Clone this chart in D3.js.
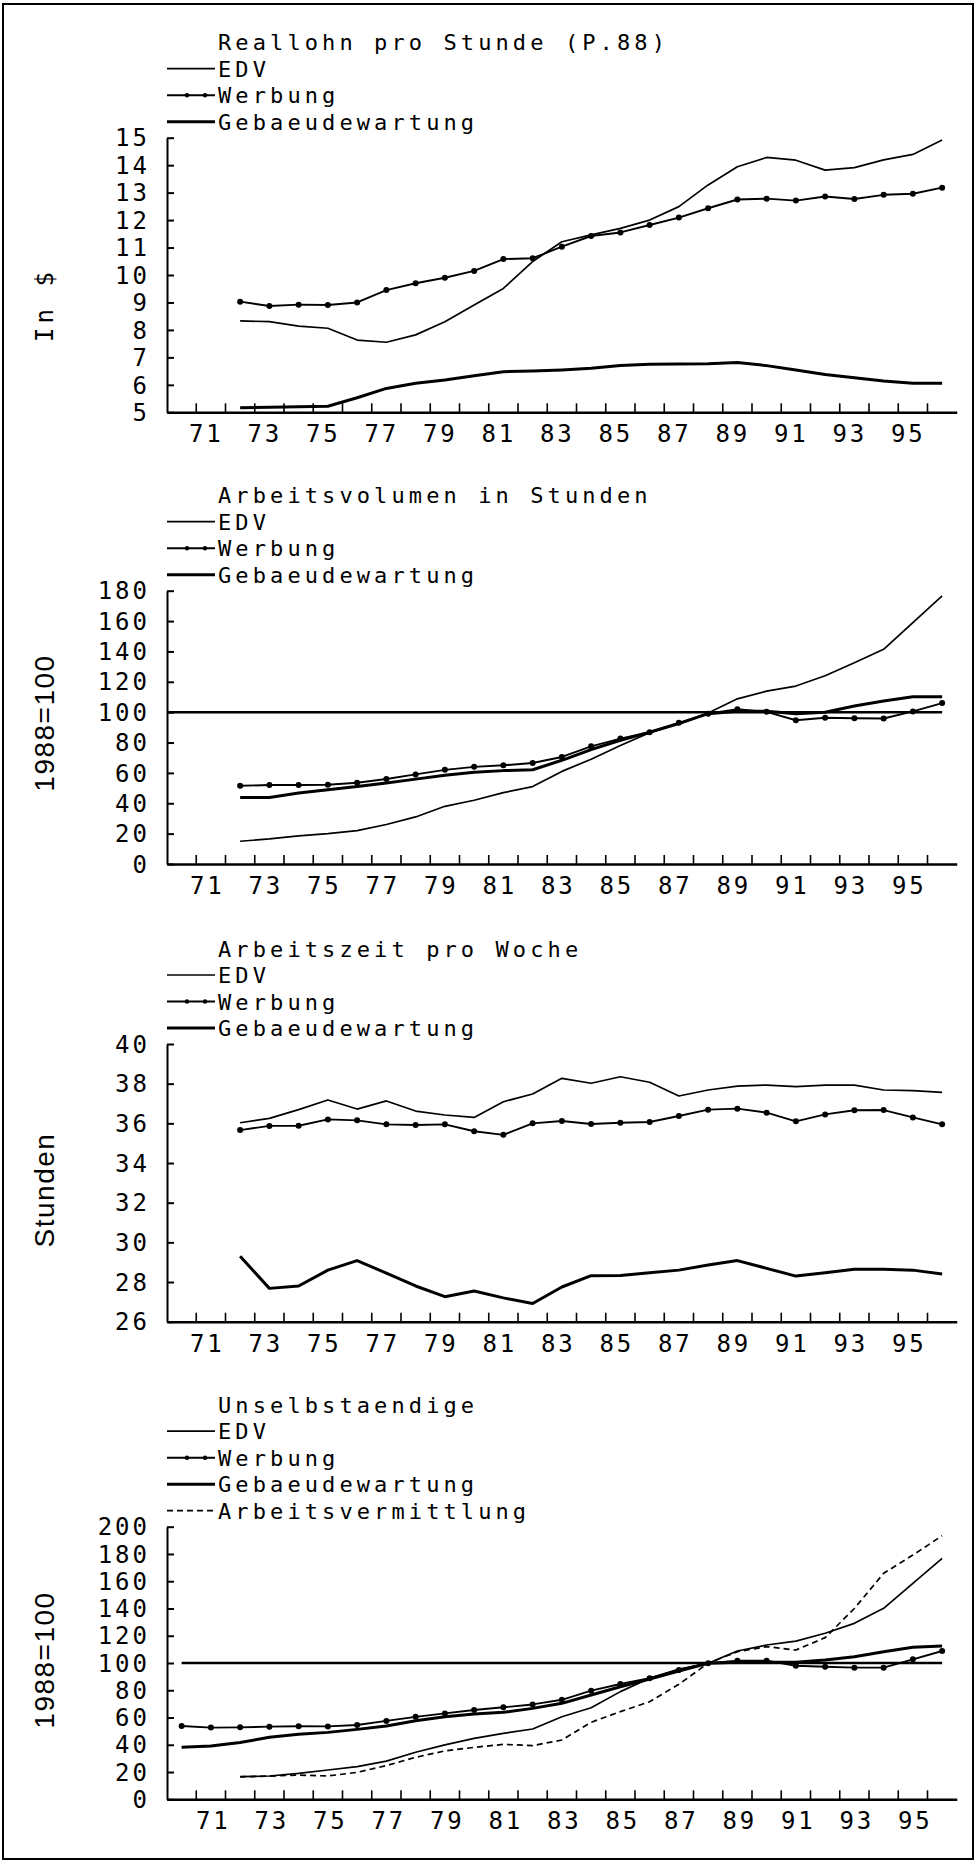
<!DOCTYPE html>
<html>
<head>
<meta charset="utf-8">
<script src="https://cdn.jsdelivr.net/npm/d3@7"></script>
<style>
  body { margin: 0; background: #fff; }
  svg { display: block; background: #fff; }
  .mono { font-family: "DejaVu Sans Mono", monospace; fill: #000; }
  .sans { font-family: "Liberation Sans", Arial, sans-serif; fill: #000; }
</style>
</head>
<body>
<div id="chart"></div>
<script>
// categories (years) and x tick labels
const years = [1970, 1971, 1972, 1973, 1974, 1975, 1976, 1977, 1978, 1979, 1980, 1981, 1982,
  1983, 1984, 1985, 1986, 1987, 1988, 1989, 1990, 1991, 1992, 1993, 1994, 1995, 1996];
const xTickLabels = ["71", "73", "75", "77", "79", "81", "83", "85", "87", "89", "91", "93", "95"];

// y tick values
const reallohnTicks = [5, 6, 7, 8, 9, 10, 11, 12, 13, 14, 15];
const volumenTicks = [0, 20, 40, 60, 80, 100, 120, 140, 160, 180];
const arbeitszeitTicks = [26, 28, 30, 32, 34, 36, 38, 40];
const unselbTicks = [0, 20, 40, 60, 80, 100, 120, 140, 160, 180, 200];
const baseIndex = 100; // 1988=100

// Reallohn pro Stunde (P.88), in $
const reallohnEDV = [null, null, 8.33, 8.30, 8.14, 8.06, 7.63, 7.55, 7.82, 8.30, 8.91, 9.51, 10.49,
  11.21, 11.46, 11.70, 12.00, 12.49, 13.28, 13.94, 14.28, 14.18, 13.82, 13.91, 14.19, 14.39, 14.92];
const reallohnWerbung = [null, null, 9.03, 8.87, 8.92, 8.91, 9.00, 9.45, 9.70, 9.90, 10.15, 10.58, 10.61,
  11.03, 11.42, 11.55, 11.82, 12.09, 12.43, 12.75, 12.78, 12.71, 12.86, 12.77, 12.92, 12.96, 13.18];
const reallohnGebaeude = [null, null, 5.17, 5.18, 5.20, 5.22, 5.53, 5.87, 6.06, 6.18, 6.33, 6.48, 6.50,
  6.54, 6.60, 6.70, 6.75, 6.76, 6.77, 6.81, 6.70, 6.54, 6.38, 6.26, 6.14, 6.06, 6.06];

// Arbeitsvolumen in Stunden, 1988=100
const volumenEDV = [null, null, 15, 16.5, 18.5, 20, 22, 26, 31, 38, 42, 47, 51,
  61, 69, 78, 86.5, 92.5, 99.5, 108.8, 113.9, 117.2, 124, 132.6, 141.4, 159, 176.6];
const volumenWerbung = [null, null, 51.5, 52, 52, 52.2, 53.5, 56, 59, 62, 64, 65, 66.5,
  70.5, 77.5, 82.6, 86.8, 93, 99, 102, 100.2, 94.7, 96.3, 96, 95.8, 100.5, 106];
const volumenGebaeude = [null, null, 43.8, 43.8, 46.7, 48.9, 51.1, 53.3, 55.9, 58.4, 60.4, 61.5, 62.1,
  68.3, 75.3, 81.5, 86.8, 92.5, 99, 100.6, 100.6, 99, 100, 104, 107.3, 110.1, 110.1];

// Arbeitszeit pro Woche, Stunden
const zeitEDV = [null, null, 36.03, 36.25, 36.69, 37.18, 36.72, 37.13, 36.62, 36.42, 36.30, 37.09, 37.48,
  38.27, 38.02, 38.35, 38.07, 37.38, 37.68, 37.88, 37.93, 37.85, 37.93, 37.93, 37.68, 37.65, 37.56];
const zeitWerbung = [null, null, 35.66, 35.87, 35.88, 36.20, 36.15, 35.95, 35.92, 35.95, 35.60, 35.42, 36.00,
  36.12, 35.97, 36.03, 36.07, 36.37, 36.69, 36.74, 36.54, 36.10, 36.45, 36.66, 36.67, 36.30, 35.95];
const zeitGebaeude = [null, null, 29.30, 27.68, 27.80, 28.60, 29.08, 28.45, 27.80, 27.26, 27.55, 27.20, 26.92,
  27.75, 28.32, 28.33, 28.47, 28.60, 28.86, 29.08, 28.69, 28.30, 28.47, 28.64, 28.64, 28.60, 28.40];

// Unselbstaendige, 1988=100
const unselbEDV = [null, null, 16.6, 17.1, 19, 21.5, 24, 28, 34.5, 39.9, 44.7, 48.4, 51.6,
  60.6, 67.2, 79, 88.8, 95.6, 99.8, 108.8, 113.2, 116.1, 121.8, 129.1, 140.1, 158.4, 176.8];
const unselbWerbung = [53.8, 52.6, 52.8, 53.3, 53.6, 53.5, 54.5, 57.5, 60.5, 63, 65.5, 67.5, 69.6,
  73, 79.7, 84.6, 88.8, 94.9, 99.8, 101.7, 101.7, 98, 97.3, 96.6, 96.6, 102.7, 108.8];
const unselbGebaeude = [38.1, 39.1, 41.6, 45.5, 47.7, 49.1, 51.3, 53.8, 57.7, 60.6, 62.6, 63.8, 66.7,
  70.4, 76.5, 82.6, 88.3, 94.1, 99.8, 100.5, 100.5, 100.5, 102.2, 104.6, 108.3, 111.5, 112.5];
const unselbVermittlung = [null, null, 16.5, 17, 17.8, 17.1, 19.8, 24.7, 30.8, 35.5, 38.1, 40.3, 39.4,
  43.5, 56.5, 64.3, 71.6, 84.4, 99.8, 108.3, 112, 109.5, 118.6, 140, 165.8, 179.2, 193.4];

// line styles per series name
const styles = {
  "EDV": { width: 1.7, dash: null, dots: false },
  "Werbung": { width: 1.9, dash: null, dots: true },
  "Gebaeudewartung": { width: 3, dash: null, dots: false },
  "Arbeitsvermittlung": { width: 1.7, dash: "6,4", dots: false }
};

let width = 976;
let height = 1862;

let svg = d3.select("#chart")
  .append("svg")
  .attr("width", width)
  .attr("height", height);

// frame round the page
svg.append("rect")
  .attr("x", 3).attr("y", 4)
  .attr("width", width - 6).attr("height", height - 7)
  .attr("fill", "none")
  .attr("stroke", "#000")
  .attr("stroke-width", 2);

let x = d3.scaleBand()
  .domain(years)
  .range([167, 956.75])
  .padding(0);
const cx = yr => x(yr) + x.bandwidth() / 2;

const panels = [
  { title: "Reallohn pro Stunde (P.88)", yTitle: "In $", yTitleMono: true, yTitleY: 305,
    domain: [5, 15], ticks: reallohnTicks, top: 137.7, bottom: 412.3, ref: null, labelShift: -6,
    series: [["EDV", reallohnEDV], ["Werbung", reallohnWerbung], ["Gebaeudewartung", reallohnGebaeude]] },
  { title: "Arbeitsvolumen in Stunden", yTitle: "1988=100", yTitleMono: false, yTitleY: 723,
    domain: [0, 180], ticks: volumenTicks, top: 590.7, bottom: 864, ref: "axis", labelShift: -5,
    series: [["EDV", volumenEDV], ["Werbung", volumenWerbung], ["Gebaeudewartung", volumenGebaeude]] },
  { title: "Arbeitszeit pro Woche", yTitle: "Stunden", yTitleMono: false, yTitleY: 1190,
    domain: [26, 40], ticks: arbeitszeitTicks, top: 1044, bottom: 1321.7, ref: null, labelShift: -5,
    series: [["EDV", zeitEDV], ["Werbung", zeitWerbung], ["Gebaeudewartung", zeitGebaeude]] },
  { title: "Unselbstaendige", yTitle: "1988=100", yTitleMono: false, yTitleY: 1660,
    domain: [0, 200], ticks: unselbTicks, top: 1526.7, bottom: 1799.3, ref: "data", labelShift: 1,
    series: [["EDV", unselbEDV], ["Werbung", unselbWerbung], ["Gebaeudewartung", unselbGebaeude],
      ["Arbeitsvermittlung", unselbVermittlung]] }
];

const drawPanel = (p) => {
  let y = d3.scaleLinear().domain(p.domain).range([p.bottom, p.top]);
  let g = svg.append("g");

  // y axis, ticks pointing into the plot
  let yAxis = d3.axisLeft(y)
    .tickValues(p.ticks)
    .tickSizeInner(-7)
    .tickSizeOuter(0)
    .tickPadding(17);
  let ya = g.append("g")
    .attr("transform", "translate(" + x.range()[0] + ",0)")
    .call(yAxis);
  ya.select(".domain").attr("stroke-width", 2);
  ya.selectAll(".tick line").attr("stroke-width", 2);
  ya.selectAll("text")
    .attr("class", "mono")
    .attr("font-size", 24)
    .attr("dy", "0.34em")
    .style("letter-spacing", "3px");

  // x axis line
  let xa = g.append("g").attr("transform", "translate(0," + p.bottom + ")");
  xa.append("g")
    .call(d3.axisBottom(x).tickValues([]).tickSizeOuter(0))
    .select(".domain").attr("stroke-width", 2.5);
  // tick marks between the years
  xa.append("g")
    .attr("transform", "translate(" + (-x.step() / 2) + ",0)")
    .call(d3.axisBottom(x).tickValues(years.slice(1)).tickSize(-9).tickFormat(""))
    .call(s => s.select(".domain").remove())
    .selectAll(".tick line").attr("stroke-width", 1.6);
  // year labels
  let xl = xa.append("g")
    .call(d3.axisBottom(x)
      .tickValues(xTickLabels.map(l => 1900 + Number(l)))
      .tickSize(0)
      .tickPadding(13)
      .tickFormat(d => String(d).slice(2)));
  xl.select(".domain").remove();
  xl.selectAll("text")
    .attr("class", "mono")
    .attr("font-size", 24)
    .attr("dx", 1.5 + p.labelShift)
    .style("letter-spacing", "3px");

  // 1988=100 reference line
  if (p.ref) {
    let refLine = d3.line().x(d => d[0]).y(d => y(d[1]));
    let x0 = p.ref === "axis" ? x.range()[0] : cx(years[0]);
    g.append("path")
      .datum([[x0, baseIndex], [cx(years[years.length - 1]), baseIndex]])
      .attr("d", refLine)
      .attr("fill", "none")
      .attr("stroke", "#000")
      .attr("stroke-width", 2.5);
  }

  // series
  let line = d3.line()
    .defined(d => d[1] != null)
    .x(d => cx(d[0]))
    .y(d => y(d[1]));

  p.series.forEach(([name, values]) => {
    let st = styles[name];
    let pts = years.map((yr, i) => [yr, values[i]]);
    g.append("path")
      .datum(pts)
      .attr("d", line)
      .attr("fill", "none")
      .attr("stroke", "#000")
      .attr("stroke-width", st.width)
      .attr("stroke-linejoin", "round")
      .attr("stroke-dasharray", st.dash);
    if (st.dots) {
      g.selectAll(null)
        .data(pts.filter(d => d[1] != null))
        .join("circle")
        .attr("cx", d => cx(d[0]))
        .attr("cy", d => y(d[1]))
        .attr("r", 3)
        .attr("fill", "#000");
    }
  });

  // title and legend
  let rowH = 26.5;
  let baseY = p.top - 8 - rowH * p.series.length;
  g.append("text")
    .attr("class", "mono")
    .attr("x", 218)
    .attr("y", baseY)
    .attr("font-size", 22)
    .style("letter-spacing", "4.1px")
    .text(p.title);

  p.series.forEach(([name], i) => {
    let st = styles[name];
    let ly = baseY + rowH * (i + 1);
    g.append("line")
      .attr("x1", 167).attr("x2", 215)
      .attr("y1", ly - 8).attr("y2", ly - 8)
      .attr("stroke", "#000")
      .attr("stroke-width", st.width)
      .attr("stroke-dasharray", st.dash);
    if (st.dots) {
      [187, 205].forEach(dx => {
        g.append("circle").attr("cx", dx).attr("cy", ly - 8).attr("r", 2.2).attr("fill", "#000");
      });
    }
    g.append("text")
      .attr("class", "mono")
      .attr("x", 218)
      .attr("y", ly)
      .attr("font-size", 22)
      .style("letter-spacing", "4.1px")
      .text(name);
  });

  // y axis title
  g.append("text")
    .attr("class", p.yTitleMono ? "mono" : "sans")
    .attr("transform", "translate(44," + p.yTitleY + ") rotate(-90)")
    .attr("text-anchor", "middle")
    .attr("dy", "0.36em")
    .attr("font-size", p.yTitleMono ? 24 : 28)
    .style("letter-spacing", p.yTitleMono ? "4px" : "1.5px")
    .text(p.yTitle);
};

panels.forEach(drawPanel);
</script>
</body>
</html>
